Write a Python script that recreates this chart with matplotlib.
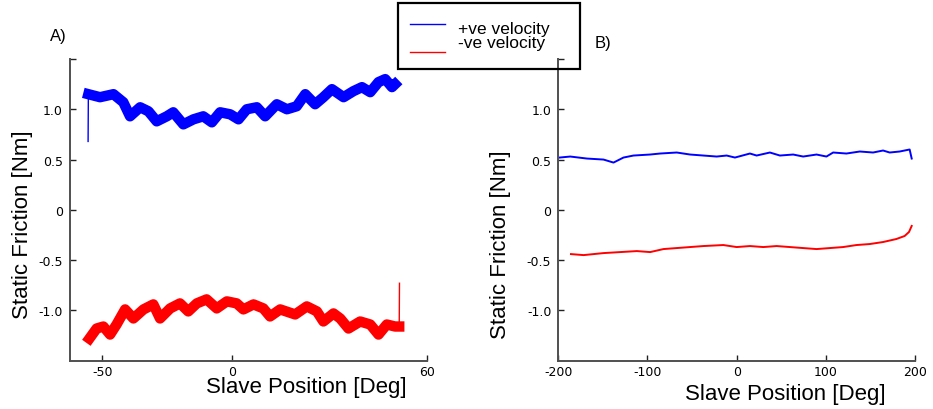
import matplotlib.pyplot as plt
from matplotlib.lines import Line2D
from matplotlib.patches import Rectangle

# ---- data ----
# A) small range test
a_pos_x = [-55.5, -55.4, -50.9, -45.7, -41.9, -39.3, -35.4, -32.2, -29.0, -25.1, -22.6,
           -18.7, -14.8, -11.0, -7.7, -4.5, -0.6, 2.6, 5.8, 9.7, 12.9, 17.4, 21.3,
           25.1, 28.4, 32.2, 35.4, 38.7, 43.2, 47.0, 50.3, 53.5, 56.7, 59.3, 61.9, 63.1]
a_pos_y = [0.68, 1.15, 1.12, 1.15, 1.07, 0.93, 1.02, 0.98, 0.88, 0.93, 0.97,
           0.85, 0.90, 0.93, 0.87, 0.97, 0.95, 0.90, 1.00, 1.02, 0.93, 1.05, 1.00,
           1.03, 1.15, 1.05, 1.12, 1.20, 1.12, 1.18, 1.22, 1.17, 1.27, 1.30, 1.22, 1.25]

a_neg_x = [-55.0, -52.2, -49.6, -47.0, -44.5, -41.2, -38.0, -34.1, -30.3, -27.7, -23.8,
           -20.0, -16.8, -13.5, -9.7, -5.8, -1.9, 1.9, 4.5, 8.4, 12.2, 14.8, 18.7,
           24.5, 29.0, 32.9, 35.4, 39.3, 41.9, 45.1, 49.6, 53.5, 56.7, 59.9, 63.1, 64.7, 64.8]
a_neg_y = [-1.28, -1.18, -1.16, -1.24, -1.14, -0.99, -1.08, -0.99, -0.94, -1.08, -0.98,
           -0.93, -1.01, -0.93, -0.89, -0.98, -0.91, -0.93, -0.99, -0.94, -0.98, -1.06, -0.99,
           -1.04, -0.96, -1.01, -1.11, -1.03, -1.08, -1.18, -1.11, -1.14, -1.24, -1.14, -1.16, -1.16, -0.73]

# B) large range test
b_pos_x = [-198.5, -186.6, -167.9, -149.3, -138.1, -126.9, -115.7, -97.0, -85.8, -67.2,
           -52.2, -37.3, -22.4, -11.2, -1.9, 14.9, 22.4, 37.3, 48.5, 63.4, 74.6, 89.6,
           100.7, 108.2, 123.1, 138.1, 153.0, 164.2, 171.6, 182.8, 194.0, 196.3]
b_pos_y = [0.52, 0.53, 0.51, 0.50, 0.47, 0.52, 0.54, 0.55, 0.56, 0.57,
           0.55, 0.54, 0.53, 0.54, 0.52, 0.56, 0.54, 0.57, 0.54, 0.55, 0.53, 0.55,
           0.53, 0.57, 0.56, 0.58, 0.57, 0.59, 0.57, 0.58, 0.60, 0.51]

b_neg_x = [-185.8, -171.6, -149.3, -130.6, -111.9, -97.0, -82.1, -67.2, -52.2, -37.3,
           -14.9, 0.0, 14.9, 29.9, 44.8, 59.7, 74.6, 89.6, 104.5, 119.4, 134.3, 149.3,
           164.2, 179.1, 188.4, 193.3, 196.3]
b_neg_y = [-0.44, -0.45, -0.43, -0.42, -0.41, -0.42, -0.39, -0.38, -0.37, -0.36,
           -0.35, -0.37, -0.36, -0.37, -0.36, -0.37, -0.38, -0.39, -0.38, -0.37, -0.35, -0.34,
           -0.32, -0.29, -0.26, -0.22, -0.16]

ytick_vals = [-1.0, -0.5, 0, 0.5, 1.0, 1.5]
ytick_labels = ['-1.0', '-0.5', '0', '0.5', '1.0', '']
a_xtick_vals = [-50, 0, 75.3]
a_xtick_labels = ['-50', '0', '60']
b_xtick_vals = [-200, -100, 0, 100, 200]
b_xtick_labels = ['-200', '-100', '0', '100', '200']

LABEL_FONT = 'Liberation Sans'
axcol = '#505050'

fig = plt.figure(figsize=(9.33, 4.10), dpi=100)
axA = fig.add_axes([0.075, 0.1178, 0.3823, 0.7359])
axB = fig.add_axes([0.5984, 0.1178, 0.3823, 0.7359])


def style(ax, xt, xl):
    for s in ['top', 'right']:
        ax.spines[s].set_visible(False)
    for s in ['left', 'bottom']:
        ax.spines[s].set_color(axcol)
        ax.spines[s].set_linewidth(1.4)
    ax.set_yticks(ytick_vals)
    ax.set_yticklabels(ytick_labels)
    ax.set_xticks(xt)
    ax.set_xticklabels(xl)
    ax.tick_params(direction='in', length=4, width=1.0, color='#222222',
                   labelsize=9)
    ax.tick_params(axis='x', pad=3)
    ax.tick_params(axis='y', pad=5)
    ax.set_ylim(-1.5, 1.5)


# A panel: thin line for the spikes, thick line for the noisy band
axA.plot(a_pos_x, a_pos_y, color='#0000ff', lw=1.0)
axA.plot(a_pos_x[1:], a_pos_y[1:], color='#0000ff', lw=7.5, solid_joinstyle='round')
axA.plot(a_neg_x, a_neg_y, color='#ff0000', lw=1.0)
axA.plot(a_neg_x[:-1], a_neg_y[:-1], color='#ff0000', lw=7.5, solid_joinstyle='round')
axA.set_xlim(-62.5, 75.3)
style(axA, a_xtick_vals, a_xtick_labels)

axB.plot(b_pos_x, b_pos_y, color='#0000ff', lw=1.4)
axB.plot(b_neg_x, b_neg_y, color='#ff0000', lw=1.4)
axB.set_xlim(-200, 200)
style(axB, b_xtick_vals, b_xtick_labels)

# axis labels
axA.text(-0.132, 0.453, 'Static Friction [Nm]', transform=axA.transAxes, rotation=90,
         ha='center', va='center', fontsize=16, family=LABEL_FONT)
axA.text(0.662, -0.087, 'Slave Position [Deg]', transform=axA.transAxes,
         ha='center', va='center', fontsize=16, family=LABEL_FONT)
axB.text(-0.161, 0.387, 'Static Friction [Nm]', transform=axB.transAxes, rotation=90,
         ha='center', va='center', fontsize=16, family=LABEL_FONT)
axB.text(0.636, -0.110, 'Slave Position [Deg]', transform=axB.transAxes,
         ha='center', va='center', fontsize=16, family=LABEL_FONT)

fig.text(0.062, 0.912, 'A)', ha='center', va='center', fontsize=12, family=LABEL_FONT)
fig.text(0.646, 0.895, 'B)', ha='center', va='center', fontsize=12, family=LABEL_FONT)

# legend box drawn by hand (mimics the MATLAB layout)
fig.patches.append(Rectangle((0.4266, 0.829), 0.195, 0.161, transform=fig.transFigure,
                             fill=False, edgecolor='black', lw=1.6, zorder=0))
fig.lines.append(Line2D([0.4395, 0.477], [0.939, 0.939], transform=fig.transFigure,
                        color='#0000ff', lw=1.0))
fig.lines.append(Line2D([0.4395, 0.477], [0.871, 0.871], transform=fig.transFigure,
                        color='#ff0000', lw=1.0))
fig.text(0.491, 0.929, '+ve velocity', ha='left', va='center', fontsize=12.5, family=LABEL_FONT)
fig.text(0.491, 0.893, '-ve velocity', ha='left', va='center', fontsize=12.5, family=LABEL_FONT)

fig.savefig('out.png', dpi=100)
